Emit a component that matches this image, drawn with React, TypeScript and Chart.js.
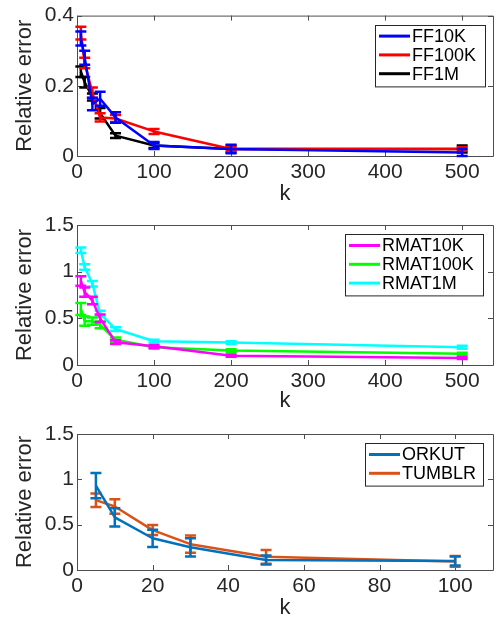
import React, { useEffect, useRef } from 'react';
import { Chart, registerables } from 'chart.js';
Chart.register(...registerables);

// ---------- data ----------
const kSynthetic = [5, 10, 20, 30, 50, 100, 200, 500];
const ff10k = [0.335, 0.28, 0.148, 0.163, 0.11, 0.03, 0.02, 0.01];
const ff10kErr = [0.02, 0.02, 0.018, 0.02, 0.015, 0.01, 0.012, 0.01];
const ff100k = [0.35, 0.265, 0.18, 0.11, 0.107, 0.07, 0.02, 0.02];
const ff100kErr = [0.018, 0.015, 0.015, 0.012, 0.01, 0.007, 0.005, 0.005];
const ff1m = [0.24, 0.21, 0.168, 0.122, 0.058, 0.03, 0.02, 0.02];
const ff1mErr = [0.015, 0.015, 0.01, 0.015, 0.007, 0.007, 0.01, 0.01];

const rmat10k = [0.9, 0.78, 0.69, 0.5, 0.245, 0.2, 0.1, 0.075];
const rmat10kErr = [0.05, 0.05, 0.04, 0.04, 0.02, 0.015, 0.012, 0.01];
const rmat100k = [0.6, 0.47, 0.47, 0.43, 0.27, 0.19, 0.155, 0.12];
const rmat100kErr = [0.065, 0.05, 0.04, 0.035, 0.025, 0.015, 0.015, 0.012];
const rmat1m = [1.23, 1.05, 0.87, 0.55, 0.385, 0.255, 0.24, 0.19];
const rmat1mErr = [0.03, 0.03, 0.03, 0.03, 0.02, 0.015, 0.015, 0.015];

const kReal = [5, 10, 20, 30, 50, 100];
const orkut = [0.93, 0.58, 0.35, 0.25, 0.11, 0.1];
const orkutErr = [0.14, 0.1, 0.095, 0.1, 0.05, 0.05];
const tumblr = [0.77, 0.7, 0.44, 0.285, 0.145, 0.095];
const tumblrErr = [0.075, 0.08, 0.055, 0.095, 0.075, 0.06];

const xTicksSynthetic = [0, 100, 200, 300, 400, 500];
const xTicksReal = [0, 20, 40, 60, 80, 100];
const yTicksFF = [0, 0.2, 0.4];
const yTicksRMAT = [0, 0.5, 1, 1.5];

// ---------- styles ----------
const FONT = "'Liberation Sans', Arial, Helvetica, sans-serif";
const TEXT = '#262626';
const AXIS = '#4d4d4d';

const errorBarPlugin = {
  id: 'errorBars',
  afterDatasetDraw(chart: any, args: any) {
    const ds = chart.data.datasets[args.index];
    const err = ds.errors;
    if (!err) return;
    const ys = chart.scales.y;
    const ctx = chart.ctx;
    ctx.save();
    ctx.strokeStyle = ds.borderColor;
    ctx.lineWidth = 2.5;
    args.meta.data.forEach((pt: any, i: number) => {
      const v = ds.data[i].y;
      const x = pt.x;
      const yt = ys.getPixelForValue(v + err[i]);
      const yb = ys.getPixelForValue(v - err[i]);
      ctx.beginPath();
      ctx.moveTo(x, yt); ctx.lineTo(x, yb);
      ctx.moveTo(x - 5.5, yt); ctx.lineTo(x + 5.5, yt);
      ctx.moveTo(x - 5.5, yb); ctx.lineTo(x + 5.5, yb);
      ctx.stroke();
    });
    ctx.restore();
  },
};

const framePlugin = {
  id: 'frame',
  beforeDatasetsDraw(chart: any) {
    const { ctx, chartArea: a, scales } = chart;
    const x = scales.x, y = scales.y;
    ctx.save();
    ctx.strokeStyle = AXIS;
    ctx.lineWidth = 1;
    ctx.beginPath();
    ctx.rect(a.left + 0.5, a.top + 0.5, a.right - a.left, a.bottom - a.top);
    const tl = 5;
    x.ticks.forEach((t: any) => {
      const px = Math.round(x.getPixelForValue(t.value)) + 0.5;
      ctx.moveTo(px, a.bottom); ctx.lineTo(px, a.bottom - tl);
      ctx.moveTo(px, a.top); ctx.lineTo(px, a.top + tl);
    });
    y.ticks.forEach((t: any) => {
      const py = Math.round(y.getPixelForValue(t.value)) + 0.5;
      ctx.moveTo(a.left, py); ctx.lineTo(a.left + tl, py);
      ctx.moveTo(a.right, py); ctx.lineTo(a.right - tl, py);
    });
    ctx.stroke();
    ctx.restore();
  },
};

const boxLegendPlugin = {
  id: 'boxLegend',
  afterDraw(chart: any, _args: any, opts: any) {
    const { ctx, chartArea: a } = chart;
    const dss = chart.data.datasets;
    const rowH = 18.8;
    const left = a.right - opts.right - opts.width;
    const top = a.top + opts.top;
    const height = dss.length * rowH + 5;
    ctx.save();
    ctx.fillStyle = '#ffffff';
    ctx.fillRect(left, top, opts.width, height);
    ctx.strokeStyle = TEXT;
    ctx.lineWidth = 1;
    ctx.strokeRect(Math.round(left) + 0.5, Math.round(top) + 0.5, opts.width, height);
    ctx.font = `18px ${FONT}`;
    ctx.textBaseline = 'middle';
    ctx.textAlign = 'left';
    dss.forEach((ds: any, i: number) => {
      const cy = top + 11.5 + i * rowH;
      ctx.strokeStyle = ds.borderColor;
      ctx.lineWidth = 3;
      ctx.beginPath();
      ctx.moveTo(left + 4, cy); ctx.lineTo(left + 35, cy);
      ctx.stroke();
      ctx.fillStyle = '#000000';
      ctx.fillText(ds.label, left + 37, cy + 1);
    });
    ctx.restore();
  },
};

function series(label: string, xs: number[], ys: number[], errs: number[], color: string) {
  return {
    label,
    data: xs.map((k, i) => ({ x: k, y: ys[i] })),
    errors: errs,
    borderColor: color,
    backgroundColor: color,
    borderWidth: 2.5,
    borderJoinStyle: 'round',
    pointRadius: 0,
    tension: 0,
  };
}

const plainLabel = (v: any) => String(v);

function makeConfig(p: any) {
  const tickFont = { family: FONT, size: 21 };
  const titleFont = { family: FONT, size: 22 };
  return {
    type: 'line',
    data: { datasets: p.datasets },
    options: {
      animation: false,
      responsive: false,
      devicePixelRatio: 1,
      layout: { padding: { top: p.padTop, right: 9, left: 0, bottom: 0 } },
      plugins: {
        legend: { display: false },
        tooltip: { enabled: false },
        boxLegend: p.legend,
      },
      scales: {
        x: {
          type: 'linear',
          min: 0,
          max: p.xMax,
          afterBuildTicks: (s: any) => { s.ticks = p.xTicks.map((v: number) => ({ value: v })); },
          afterFit: (s: any) => { s.height = p.xH; },
          grid: { display: false, drawTicks: false },
          border: { display: false },
          ticks: { font: tickFont, color: TEXT, padding: 4, maxRotation: 0, autoSkip: false, callback: plainLabel },
          title: { display: true, text: 'k', font: titleFont, color: TEXT, padding: { top: 0, bottom: 0 } },
        },
        y: {
          type: 'linear',
          min: 0,
          max: p.yMax,
          afterBuildTicks: (s: any) => { s.ticks = p.yTicks.map((v: number) => ({ value: v })); },
          afterFit: (s: any) => { s.width = 77; },
          grid: { display: false, drawTicks: false },
          border: { display: false },
          ticks: { font: tickFont, color: TEXT, padding: 3, callback: plainLabel },
          title: { display: true, text: 'Relative error', font: titleFont, color: TEXT, padding: { top: 12, bottom: 0 } },
        },
      },
    },
    plugins: [framePlugin, errorBarPlugin, boxLegendPlugin],
  };
}

const panels = [
  {
    top: 0,
    padTop: 14,
    xH: 51,
    xMax: 540,
    yMax: 0.4,
    xTicks: xTicksSynthetic,
    yTicks: yTicksFF,
    legend: { right: 8, top: 9, width: 110 },
    datasets: () => [
      series('FF10K', kSynthetic, ff10k, ff10kErr, '#0000ff'),
      series('FF100K', kSynthetic, ff100k, ff100kErr, '#ff0000'),
      series('FF1M', kSynthetic, ff1m, ff1mErr, '#000000'),
    ],
  },
  {
    top: 207,
    padTop: 18,
    xH: 49,
    xMax: 540,
    yMax: 1.5,
    xTicks: xTicksSynthetic,
    yTicks: yTicksRMAT,
    legend: { right: 10, top: 9, width: 138 },
    datasets: () => [
      series('RMAT10K', kSynthetic, rmat10k, rmat10kErr, '#ff00ff'),
      series('RMAT100K', kSynthetic, rmat100k, rmat100kErr, '#00ff00'),
      series('RMAT1M', kSynthetic, rmat1m, rmat1mErr, '#00ffff'),
    ],
  },
  {
    top: 414,
    padTop: 20,
    xH: 51,
    xMax: 110,
    yMax: 1.5,
    xTicks: xTicksReal,
    yTicks: yTicksRMAT,
    legend: { right: 10, top: 9, width: 118 },
    datasets: () => [
      series('ORKUT', kReal, orkut, orkutErr, '#0072bd'),
      series('TUMBLR', kReal, tumblr, tumblrErr, '#d95319'),
    ],
  },
];

function Panel({ p }: { p: any }) {
  const ref = useRef<HTMLCanvasElement | null>(null);
  useEffect(() => {
    if (!ref.current) return;
    const chart = new Chart(ref.current, makeConfig({ ...p, datasets: p.datasets() }) as any);
    return () => chart.destroy();
  }, []);
  return (
    <canvas
      ref={ref}
      width={502}
      height={207}
      style={{ position: 'absolute', left: 0, top: p.top, width: 502, height: 207 }}
    />
  );
}

export default function App() {
  return (
    <div style={{ position: 'absolute', left: 0, top: 0, width: 502, height: 621, background: '#ffffff' }}>
      {panels.map((p, i) => (
        <Panel key={i} p={p} />
      ))}
    </div>
  );
}
